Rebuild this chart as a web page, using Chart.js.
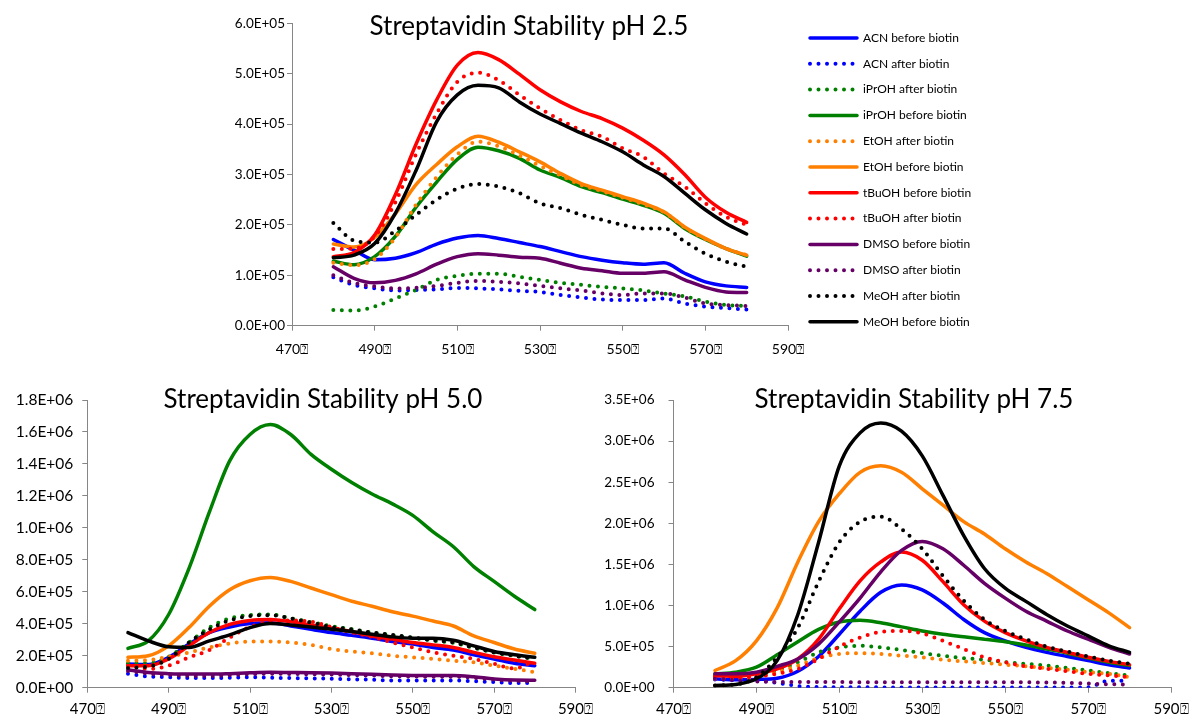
<!DOCTYPE html>
<html>
<head>
<meta charset="utf-8">
<script src="https://cdn.jsdelivr.net/npm/chart.js@4.4.1/dist/chart.umd.min.js"></script>
<style>
  html, body { margin: 0; padding: 0; background: #ffffff; width: 1196px; height: 717px; overflow: hidden; }
  .box { position: absolute; }
</style>
</head>
<body>
<div class="box" style="left:0px; top:0px;"><canvas id="chartPH25" width="1000" height="370"></canvas></div>
<div class="box" style="left:0px; top:360px;"><canvas id="chartPH50" width="600" height="357"></canvas></div>
<div class="box" style="left:590px; top:360px;"><canvas id="chartPH75" width="606" height="357"></canvas></div>
<script>
// ---------------- DATA ----------------
const WAVELENGTH_NM = [480,485,490,495,500,505,510,515,520,525,530,535,540,545,550,555,560,565,570,575,580];
const SERIES_LABELS = ['ACN before biotin','ACN after biotin','iPrOH after biotin','iPrOH before biotin','EtOH after biotin','EtOH before biotin','tBuOH before biotin','tBuOH after biotin','DMSO before biotin','DMSO after biotin','MeOH after biotin','MeOH before biotin'];
const INTENSITY_UNIT = 1e5; // series values below are in units of 1e5 counts

const X_TICKS = [470,490,510,530,550,570,590];
const X_TICK_LABELS = ['470\u2370','490\u2370','510\u2370','530\u2370','550\u2370','570\u2370','590\u2370'];

const PH25_Y_TICKS = [0,1e5,2e5,3e5,4e5,5e5,6e5];
const PH25_Y_LABELS = ['0.0E+00','1.0E+05','2.0E+05','3.0E+05','4.0E+05','5.0E+05','6.0E+05'];
const PH50_Y_TICKS = [0,2e5,4e5,6e5,8e5,1e6,1.2e6,1.4e6,1.6e6,1.8e6];
const PH50_Y_LABELS = ['0.0E+00','2.0E+05','4.0E+05','6.0E+05','8.0E+05','1.0E+06','1.2E+06','1.4E+06','1.6E+06','1.8E+06'];
const PH75_Y_TICKS = [0,5e5,1e6,1.5e6,2e6,2.5e6,3e6,3.5e6];
const PH75_Y_LABELS = ['0.0E+00','5.0E+05','1.0E+06','1.5E+06','2.0E+06','2.5E+06','3.0E+06','3.5E+06'];

// pH 2.5
const PH25_ACN_BEFORE   = [1.71,1.50,1.31,1.34,1.45,1.62,1.74,1.79,1.73,1.65,1.57,1.47,1.37,1.30,1.25,1.22,1.25,1.04,0.87,0.79,0.76];
const PH25_ACN_AFTER    = [0.96,0.81,0.74,0.70,0.71,0.72,0.75,0.74,0.72,0.69,0.67,0.61,0.56,0.52,0.51,0.51,0.54,0.44,0.38,0.35,0.32];
const PH25_IPROH_AFTER  = [0.31,0.30,0.38,0.54,0.71,0.91,0.99,1.03,1.03,0.97,0.91,0.85,0.81,0.77,0.74,0.70,0.64,0.58,0.48,0.41,0.39];
const PH25_IPROH_BEFORE = [1.28,1.21,1.37,1.77,2.35,2.85,3.30,3.54,3.47,3.32,3.09,2.94,2.76,2.64,2.51,2.39,2.23,1.93,1.71,1.53,1.38];
const PH25_ETOH_AFTER   = [1.25,1.20,1.32,1.75,2.40,2.95,3.40,3.65,3.56,3.38,3.17,2.98,2.79,2.67,2.54,2.41,2.25,1.95,1.72,1.53,1.40];
const PH25_ETOH_BEFORE  = [1.62,1.56,1.75,2.22,2.80,3.20,3.55,3.76,3.64,3.45,3.25,3.02,2.82,2.69,2.56,2.43,2.26,1.96,1.73,1.53,1.40];
const PH25_TBUOH_BEFORE = [1.37,1.45,1.80,2.60,3.60,4.48,5.17,5.42,5.28,4.99,4.68,4.44,4.25,4.11,3.92,3.68,3.39,3.00,2.55,2.25,2.05];
const PH25_TBUOH_AFTER  = [1.52,1.53,1.77,2.45,3.40,4.21,4.84,5.02,4.87,4.58,4.31,4.08,3.88,3.75,3.52,3.35,3.02,2.76,2.43,2.16,2.00];
const PH25_DMSO_BEFORE  = [1.17,0.94,0.85,0.90,1.03,1.22,1.37,1.43,1.40,1.36,1.34,1.24,1.14,1.09,1.04,1.04,1.07,0.91,0.76,0.67,0.66];
const PH25_DMSO_AFTER   = [1.00,0.85,0.78,0.74,0.75,0.79,0.85,0.89,0.87,0.84,0.79,0.74,0.70,0.64,0.61,0.64,0.64,0.56,0.44,0.41,0.39];
const PH25_MEOH_AFTER   = [2.04,1.69,1.65,1.88,2.20,2.50,2.72,2.81,2.76,2.63,2.43,2.33,2.20,2.10,2.00,1.93,1.93,1.67,1.43,1.27,1.17];
const PH25_MEOH_BEFORE  = [1.35,1.40,1.63,2.23,3.08,4.05,4.58,4.77,4.72,4.44,4.20,4.01,3.82,3.65,3.45,3.19,2.96,2.63,2.30,2.03,1.82];

// pH 5.0
const PH50_ACN_BEFORE   = [1.49,1.45,1.90,2.73,3.45,3.80,4.01,4.07,3.86,3.65,3.45,3.28,3.10,2.89,2.73,2.52,2.35,2.06,1.80,1.53,1.38];
const PH50_ACN_AFTER    = [0.87,0.70,0.66,0.60,0.60,0.62,0.66,0.62,0.60,0.58,0.56,0.52,0.50,0.45,0.45,0.45,0.45,0.41,0.35,0.29,0.29];
const PH50_IPROH_AFTER  = [1.53,1.53,1.94,2.83,3.76,4.34,4.54,4.58,4.34,4.10,3.85,3.65,3.45,3.28,3.12,2.95,2.80,2.50,2.20,2.00,1.80];
const PH50_IPROH_BEFORE = [2.46,2.93,4.58,7.47,10.98,14.19,15.84,16.46,15.84,14.60,13.67,12.84,12.12,11.50,10.78,9.75,8.82,7.58,6.65,5.72,4.89];
const PH50_ETOH_AFTER   = [1.69,1.73,1.94,2.21,2.52,2.77,2.89,2.89,2.83,2.68,2.42,2.27,2.15,2.00,1.90,1.80,1.69,1.59,1.38,1.18,0.97];
const PH50_ETOH_BEFORE  = [1.90,2.00,2.62,3.76,5.10,6.13,6.69,6.90,6.65,6.24,5.82,5.41,5.10,4.75,4.48,4.17,3.86,3.24,2.83,2.42,2.15];
const PH50_TBUOH_BEFORE = [1.38,1.38,1.80,2.62,3.45,3.96,4.21,4.27,4.13,3.92,3.72,3.51,3.24,3.04,2.83,2.68,2.52,2.21,1.94,1.73,1.53];
const PH50_TBUOH_AFTER  = [1.38,1.18,1.38,1.90,2.35,3.14,3.80,4.13,4.21,4.13,3.80,3.45,3.18,2.83,2.52,2.21,2.00,1.80,1.49,1.20,1.70];
const PH50_DMSO_BEFORE  = [1.12,0.95,0.88,0.85,0.85,0.88,0.93,0.96,0.95,0.94,0.92,0.88,0.84,0.80,0.77,0.76,0.76,0.68,0.55,0.48,0.47];
const PH50_DMSO_AFTER   = [1.05,0.88,0.80,0.74,0.73,0.78,0.85,0.88,0.86,0.84,0.82,0.79,0.76,0.72,0.70,0.68,0.69,0.62,0.50,0.42,0.40];
const PH50_MEOH_AFTER   = [1.24,1.32,1.80,2.83,3.65,4.21,4.48,4.54,4.34,4.07,3.80,3.65,3.45,3.30,3.14,2.97,2.83,2.52,2.21,2.00,1.80];
const PH50_MEOH_BEFORE  = [3.45,2.93,2.56,2.52,2.93,3.30,3.76,4.01,3.92,3.80,3.65,3.51,3.35,3.18,3.10,3.10,2.97,2.62,2.27,2.06,1.90];

// pH 7.5
const PH75_ACN_BEFORE   = [1.08,0.96,1.00,1.15,2.00,3.80,6.50,9.30,11.6,12.5,11.9,10.3,8.3,6.7,5.7,4.9,4.3,3.8,3.3,2.8,2.4];
const PH75_ACN_AFTER    = [1.00,0.92,0.88,0.60,0.20,0.08,0.05,0.05,0.04,0.03,0.03,0.02,0.02,0.02,0.02,0.02,0.02,0.02,0.05,0.85,0.85];
const PH75_IPROH_AFTER  = [1.49,1.37,1.49,2.09,3.09,4.3,4.9,5.1,4.9,4.6,4.2,3.9,3.6,3.4,3.1,2.9,2.7,2.4,2.1,1.77,1.49];
const PH75_IPROH_BEFORE = [1.69,1.89,2.49,4.0,5.6,7.1,8.0,8.2,7.9,7.4,6.9,6.5,6.2,5.9,5.6,5.2,4.7,4.2,3.6,3.1,2.7];
const PH75_ETOH_AFTER   = [1.08,1.08,1.28,1.89,2.69,3.6,4.1,4.2,4.1,3.9,3.7,3.4,3.2,3.0,2.8,2.6,2.4,2.2,1.89,1.69,1.28];
const PH75_ETOH_BEFORE  = [2.09,3.29,5.7,9.71,15.3,20.2,23.6,26.2,27.0,26.2,24.2,22.2,20.2,18.7,16.9,15.3,13.9,12.3,10.7,9.1,7.3];
const PH75_TBUOH_BEFORE = [1.49,1.37,1.69,2.29,3.49,5.9,9.6,13.0,15.3,16.5,15.5,12.9,10.1,8.1,6.7,5.7,4.9,4.3,3.7,3.2,2.8];
const PH75_TBUOH_AFTER  = [1.28,1.20,1.37,1.69,2.29,3.5,5.0,6.1,6.8,6.9,6.6,5.7,4.7,3.7,3.1,2.6,2.3,2.0,1.69,1.49,1.28];
const PH75_DMSO_BEFORE  = [1.69,1.69,1.89,2.60,3.49,5.3,8.0,10.9,14.1,16.7,17.8,16.9,14.9,12.7,10.9,9.3,8.1,6.9,5.9,4.9,4.1];
const PH75_DMSO_AFTER   = [1.10,0.90,0.75,0.70,0.68,0.68,0.68,0.67,0.67,0.67,0.67,0.66,0.66,0.65,0.65,0.65,0.64,0.60,0.50,0.42,0.38];
const PH75_MEOH_AFTER   = [0.28,0.40,1.28,3.69,7.31,12.9,17.7,20.2,20.8,19.3,16.9,13.6,10.6,8.3,6.9,5.9,5.0,4.4,3.8,3.3,2.9];
const PH75_MEOH_BEFORE  = [0.28,0.40,1.08,3.29,8.91,17.7,27.0,31.0,32.2,31.2,28.2,23.4,18.5,14.5,12.1,10.5,8.9,7.5,6.3,5.1,4.3];

// ---------------- STYLE ----------------
const SERIES_COLORS = ['#0000FF','#0000FF','#008000','#008000','#FF7F00','#FF7F00','#FF0000','#FF0000','#660066','#660066','#000000','#000000'];
const SERIES_DOTTED = [false,true,true,false,true,false,false,true,false,true,true,false];
const FONT = 'Lato, "DejaVu Sans", sans-serif';
const AXIS_COLOR = '#868686';
const LEGEND_FONT_SIZE = 12;
const LEGEND_PADDING = 13.8;

// Positions the title centre and the legend box after Chart.js layout
const placeBoxesPlugin = {
  id: 'placeBoxes',
  beforeLayout(chart, args, opts) {
    const lg = chart.legend;
    if (lg && opts.legendWidth && !lg.__fixedFit) {
      const origFit = lg.fit;
      lg.fit = function () { origFit.call(this); this.width = opts.legendWidth; };
      lg.__fixedFit = true;
    }
  },
  afterLayout(chart, args, opts) {
    const t = chart.titleBlock;
    if (t && opts.titleCenterX !== undefined) {
      const half = (t.right - t.left) / 2;
      t.left = opts.titleCenterX - half;
      t.right = opts.titleCenterX + half;
    }
    const lg = chart.legend;
    if (lg && opts.legendItemLeft !== undefined) {
      const dx = (opts.legendItemLeft - LEGEND_PADDING) - lg.left;
      lg.left += dx; lg.right += dx;
      const dy = (opts.legendFirstCenterY - LEGEND_FONT_SIZE / 2 - LEGEND_PADDING) - lg.top;
      lg.top += dy; lg.bottom += dy;
    }
  }
};

function buildChart(canvasId, p) {
  const datasets = p.series.map((vals, i) => ({
    label: SERIES_LABELS[i],
    data: WAVELENGTH_NM.map((x, k) => ({ x: x, y: vals[k] * INTENSITY_UNIT })),
    borderColor: SERIES_COLORS[i],
    backgroundColor: SERIES_COLORS[i],
    borderWidth: SERIES_DOTTED[i] ? 4 : 3.5,
    borderDash: SERIES_DOTTED[i] ? [0, 8.5] : [],
    borderCapStyle: 'round',
    borderJoinStyle: 'round',
    pointRadius: 0,
    pointHoverRadius: 0,
    cubicInterpolationMode: 'monotone',
    fill: false,
    order: SERIES_LABELS.length - i
  }));
  const axisGrid = { display: true, drawOnChartArea: false, drawTicks: true, tickLength: 5, color: AXIS_COLOR, lineWidth: 1 };
  const axisBorder = { display: true, color: AXIS_COLOR, width: 1 };
  return new Chart(document.getElementById(canvasId), {
    type: 'line',
    data: { datasets: datasets },
    options: {
      responsive: false,
      animation: false,
      events: [],
      layout: { padding: { left: 0, top: 0, bottom: 0, right: p.padRight } },
      scales: {
        x: {
          type: 'linear', min: 470, max: 590,
          afterBuildTicks: (s) => { s.ticks = X_TICKS.map(v => ({ value: v })); },
          afterFit: (s) => { s.height = p.xAxisH; },
          ticks: { callback: (v, i) => X_TICK_LABELS[i], color: '#000', font: { family: FONT, size: p.xFont }, padding: p.xPad, maxRotation: 0, autoSkip: false },
          grid: axisGrid, border: axisBorder
        },
        y: {
          type: 'linear', min: 0, max: p.yTicks[p.yTicks.length - 1],
          afterBuildTicks: (s) => { s.ticks = p.yTicks.map(v => ({ value: v })); },
          afterFit: (s) => { s.width = p.yAxisW; },
          ticks: { callback: (v, i) => p.yLabels[i], color: '#000', font: { family: FONT, size: p.yFont }, padding: p.yPad, autoSkip: false },
          grid: axisGrid, border: axisBorder
        }
      },
      plugins: {
        placeBoxes: p.placement,
        title: { display: true, text: p.title, color: '#000', font: { family: FONT, size: p.titleFont, weight: 'normal', lineHeight: 1.2 }, padding: { top: p.titleTop, bottom: p.titleBottom } },
        tooltip: { enabled: false },
        legend: p.legend ? {
          display: true, position: 'right', align: 'start', fullSize: true,
          labels: {
            usePointStyle: true, pointStyle: 'line', pointStyleWidth: 47, padding: LEGEND_PADDING,
            color: '#000', font: { family: FONT, size: LEGEND_FONT_SIZE },
            generateLabels: (chart) => chart.data.datasets.map((ds, i) => ({
              text: ds.label, strokeStyle: ds.borderColor, fillStyle: ds.borderColor,
              lineWidth: ds.borderWidth, lineDash: ds.borderDash, lineCap: 'round', lineJoin: 'round',
              pointStyle: 'line', hidden: false, datasetIndex: i, fontColor: '#000'
            }))
          }
        } : { display: false }
      }
    },
    plugins: [placeBoxesPlugin]
  });
}

buildChart('chartPH25', {
  title: 'Streptavidin Stability pH 2.5',
  series: [PH25_ACN_BEFORE, PH25_ACN_AFTER, PH25_IPROH_AFTER, PH25_IPROH_BEFORE, PH25_ETOH_AFTER, PH25_ETOH_BEFORE, PH25_TBUOH_BEFORE, PH25_TBUOH_AFTER, PH25_DMSO_BEFORE, PH25_DMSO_AFTER, PH25_MEOH_AFTER, PH25_MEOH_BEFORE],
  yTicks: PH25_Y_TICKS, yLabels: PH25_Y_LABELS,
  legend: true, padRight: 12,
  placement: { legendWidth: 200, legendItemLeft: 810, legendFirstCenterY: 38, titleCenterX: 529 },
  yAxisW: 292, xAxisH: 44.3,
  yFont: 13.5, yPad: 2, xFont: 14, xPad: 10,
  titleFont: 26, titleTop: 10.9, titleBottom: -18.8
});
buildChart('chartPH50', {
  title: 'Streptavidin Stability pH 5.0',
  series: [PH50_ACN_BEFORE, PH50_ACN_AFTER, PH50_IPROH_AFTER, PH50_IPROH_BEFORE, PH50_ETOH_AFTER, PH50_ETOH_BEFORE, PH50_TBUOH_BEFORE, PH50_TBUOH_AFTER, PH50_DMSO_BEFORE, PH50_DMSO_AFTER, PH50_MEOH_AFTER, PH50_MEOH_BEFORE],
  yTicks: PH50_Y_TICKS, yLabels: PH50_Y_LABELS,
  legend: false, padRight: 23.3,
  placement: { titleCenterX: 323 },
  yAxisW: 87.3, xAxisH: 29.3,
  yFont: 15.5, yPad: 9, xFont: 15, xPad: 7,
  titleFont: 26, titleTop: 23.9, titleBottom: -15.1
});
buildChart('chartPH75', {
  title: 'Streptavidin Stability pH 7.5',
  series: [PH75_ACN_BEFORE, PH75_ACN_AFTER, PH75_IPROH_AFTER, PH75_IPROH_BEFORE, PH75_ETOH_AFTER, PH75_ETOH_BEFORE, PH75_TBUOH_BEFORE, PH75_TBUOH_AFTER, PH75_DMSO_BEFORE, PH75_DMSO_AFTER, PH75_MEOH_AFTER, PH75_MEOH_BEFORE],
  yTicks: PH75_Y_TICKS, yLabels: PH75_Y_LABELS,
  legend: false, padRight: 25,
  placement: { titleCenterX: 324 },
  yAxisW: 83.5, xAxisH: 29.3,
  yFont: 13.5, yPad: 14, xFont: 15, xPad: 7,
  titleFont: 26, titleTop: 23.9, titleBottom: -15.1
});
</script>
</body>
</html>
